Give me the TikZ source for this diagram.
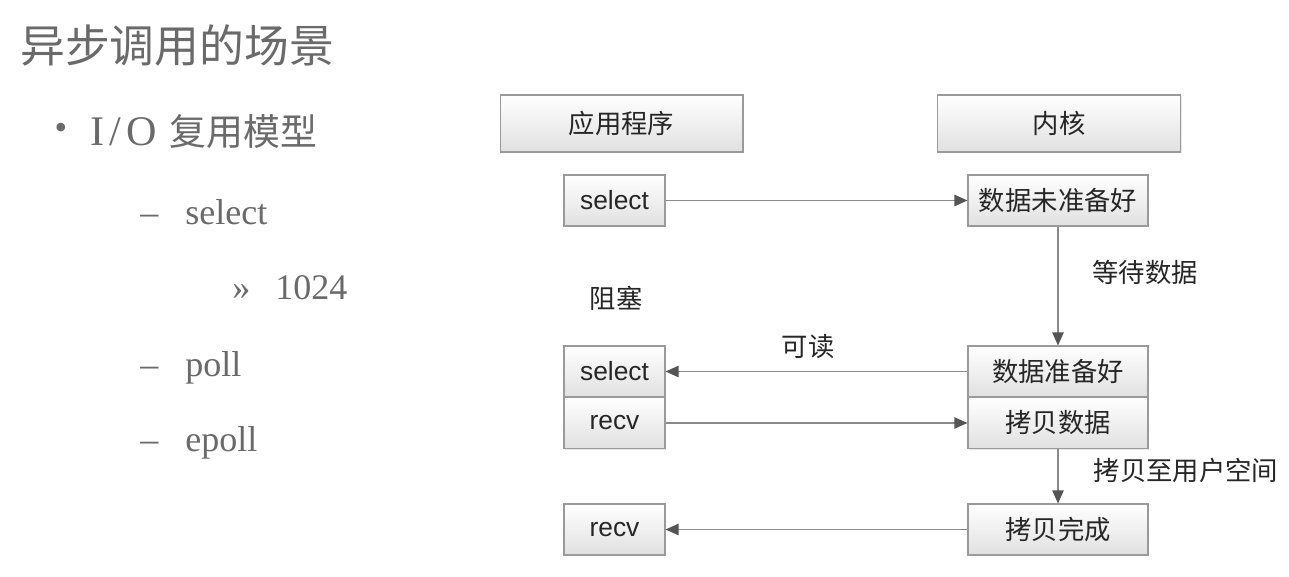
\documentclass[tikz,border=0pt]{standalone}
\usepackage{fontspec}
\setsansfont{Liberation Sans}
\setmainfont{Liberation Serif}
\newfontfamily\cjk{Noto Sans CJK SC}
\usetikzlibrary{arrows.meta,shadows}
\definecolor{lefttext}{HTML}{6A6A6A}
\definecolor{boxline}{HTML}{9A9A9A}
\definecolor{linec}{HTML}{8A8A8A}
\definecolor{tipc}{HTML}{555555}
\begin{document}
\begin{tikzpicture}[x=0.02cm,y=-0.02cm,
  basebox/.style={draw=boxline, line width=0.6pt, top color=white, bottom color=black!12,
    drop shadow={opacity=0.18, shadow xshift=0.7pt, shadow yshift=-0.7pt},
    inner sep=0pt, text=black!85},
  hdr/.style={basebox, minimum width=4.86cm, minimum height=1.14cm, font=\cjk\fontsize{15}{18}\selectfont},
  kbox/.style={basebox, minimum width=3.6cm, minimum height=1.02cm, font=\cjk\fontsize{15}{18}\selectfont},
  sbox/.style={basebox, minimum width=2.02cm, minimum height=1.02cm, font=\sffamily\fontsize{15}{18}\selectfont},
  lbl/.style={inner sep=0pt, text=black!85, font=\cjk\fontsize{15}{18}\selectfont},
  conn/.style={draw=linec, line width=0.85pt, -{Triangle[length=7.5pt,width=6.5pt,color=tipc]}},
  lt/.style={inner sep=0pt, text=lefttext, anchor=base west, font=\fontsize{20.5}{24}\selectfont},
  ]
\useasboundingbox (0,0) rectangle (1289,577);
\fill[white] (0,0) rectangle (1289,577);

% left side
\node[lt, anchor=west, font=\cjk\fontsize{25.5}{30}\selectfont] (title) at (20,46) {异步调用的场景};
\node[lt, anchor=center] (bul) at (61,131) {\textbullet};
\node[lt, anchor=west] (io) at (90,132) {\fontsize{24}{26}\selectfont I\kern3pt/\kern3pt O{\cjk\fontsize{21}{26}\selectfont\kern7pt 复用模型}};
\node[lt] (d1) at (140,225) {–};
\node[lt] (t1) at (185,225) {select};
\node[lt] (g1) at (232,300) {»};
\node[lt] (t2) at (275,300) {1024};
\node[lt] (d2) at (140,377) {–};
\node[lt] (t3) at (185,377) {poll};
\node[lt] (d3) at (140,452) {–};
\node[lt] (t4) at (185,452) {epoll};

% diagram
\node[hdr] (app) at (621.5,123.5) {应用程序};
\node[hdr] (ker) at (1059,123.5) {内核};
\node[sbox] (sel1) at (614.5,200.5) {select};
\node[kbox] (k1) at (1058,200.5) {数据未准备好};
\node[sbox] (sel2) at (614.5,371.5) {select};
\node[sbox] (recv1) at (614.5,423) {recv};
\node[kbox] (k2) at (1058,371.5) {数据准备好};
\node[kbox] (k3) at (1058,423) {拷贝数据};
\node[sbox] (recv2) at (614.5,529.5) {recv};
\node[kbox] (k4) at (1058,529.5) {拷贝完成};

\draw[conn] (sel1) -- (k1);
\draw[conn] (k1) -- (k2);
\draw[conn] (k2) -- (sel2);
\draw[conn] (recv1) -- (k3);
\draw[conn] (k3) -- (k4);
\draw[conn] (k4) -- (recv2);

\node[lbl] (l1) at (1145,272) {等待数据};
\node[lbl] (l2) at (616,298) {阻塞};
\node[lbl] (l3) at (808,347) {可读};
\node[lbl] (l4) at (1186,470) {拷贝至用户空间};
\end{tikzpicture}
\end{document}
